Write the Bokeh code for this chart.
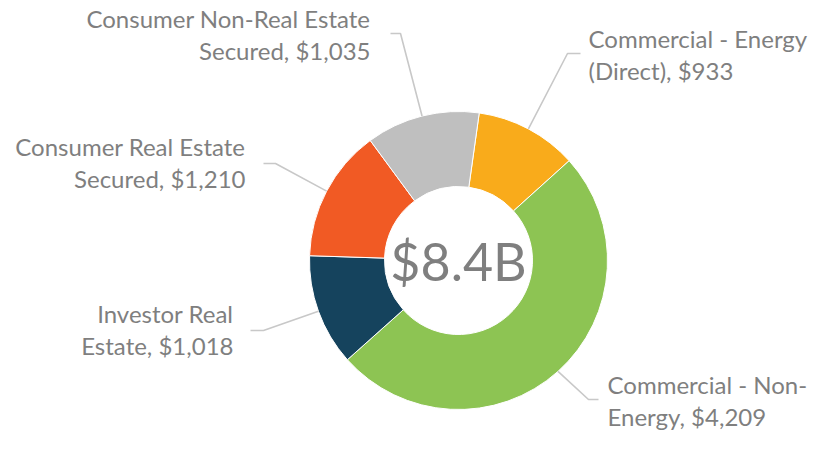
import math
from bokeh.plotting import figure
from bokeh.models import Range1d
from bokeh.core.properties import value
from bokeh.embed import file_html
from bokeh.resources import INLINE

# ---- data ----
categories = ["Commercial - Energy (Direct)", "Commercial - Non-Energy",
              "Investor Real Estate", "Consumer Real Estate Secured",
              "Consumer Non-Real Estate Secured"]
amounts = [933, 4209, 1018, 1210, 1035]
colors = ["#F9AB1B", "#8DC453", "#15435D", "#F15A24", "#BFBFBF"]
center_label = "$8.4B"

# ---- layout (picture pixel coordinates, y downward) ----
W, H = 809, 433
CX, CY = 458, 260
R_OUT, R_IN = 149, 74
FIRST_ANGLE = 8.0  # degrees clockwise from 12 o'clock
break_at = [19, 17, 13, 20, 24]
# (x, vertical centre of first line's capitals, align)
label_anchor = [(588, 38, "left"), (607, 384, "left"), (233, 313, "right"),
                (245, 146, "right"), (370, 18, "right")]
elbow = [[(580, 53), (567, 53)], [(598, 399), (588, 399)],
         [(250, 330), (263, 330)], [(263, 163), (275, 163)],
         [(390, 33), (400, 33)]]
LINE_GAP = 32
FONT = "Lato"
TEXT_COLOR = "#7F7F7F"


def Y(py):
    return H - py


p = figure(width=W, height=H, output_backend="svg", toolbar_location=None,
           x_range=Range1d(0, W), y_range=Range1d(0, H),
           min_border=0)
p.axis.visible = False
p.grid.visible = False
p.outline_line_color = None
p.background_fill_color = "white"
p.border_fill_color = "white"

total = sum(amounts)
cw = FIRST_ANGLE
for i, amt in enumerate(amounts):
    span = 360.0 * amt / total
    cw_start, cw_end = cw, cw + span
    start = math.radians(90 - cw_end)
    end = math.radians(90 - cw_start)
    p.annular_wedge(x=[CX], y=[Y(CY)], inner_radius=R_IN, outer_radius=R_OUT,
                    start_angle=[start], end_angle=[end],
                    fill_color=colors[i], line_color="white", line_width=1)
    mid = math.radians(cw_start + span / 2)
    ex = CX + R_OUT * math.sin(mid)
    ey = CY - R_OUT * math.cos(mid)
    pts = elbow[i] + [(ex, ey)]
    p.line([q[0] for q in pts], [Y(q[1]) for q in pts],
           line_color="#C8C8C8", line_width=1.6)
    full = f"{categories[i]}, ${amt:,}"
    k = break_at[i]
    lines = [full[:k].strip(), full[k:].strip()]
    ax, ay, al = label_anchor[i]
    for j, t in enumerate(lines):
        p.text(x=[ax], y=[Y(ay + j * LINE_GAP)], text=[t],
               text_font=value(FONT), text_font_size="24px",
               text_color=TEXT_COLOR, text_align=al,
               text_baseline="middle")
    cw = cw_end

p.text(x=[CX], y=[Y(CY)], text=[center_label], text_font=value(FONT),
       text_font_size="52px", text_color=TEXT_COLOR, text_align="center",
       text_baseline="middle")

open("out.html", "w").write(file_html(p, INLINE))
